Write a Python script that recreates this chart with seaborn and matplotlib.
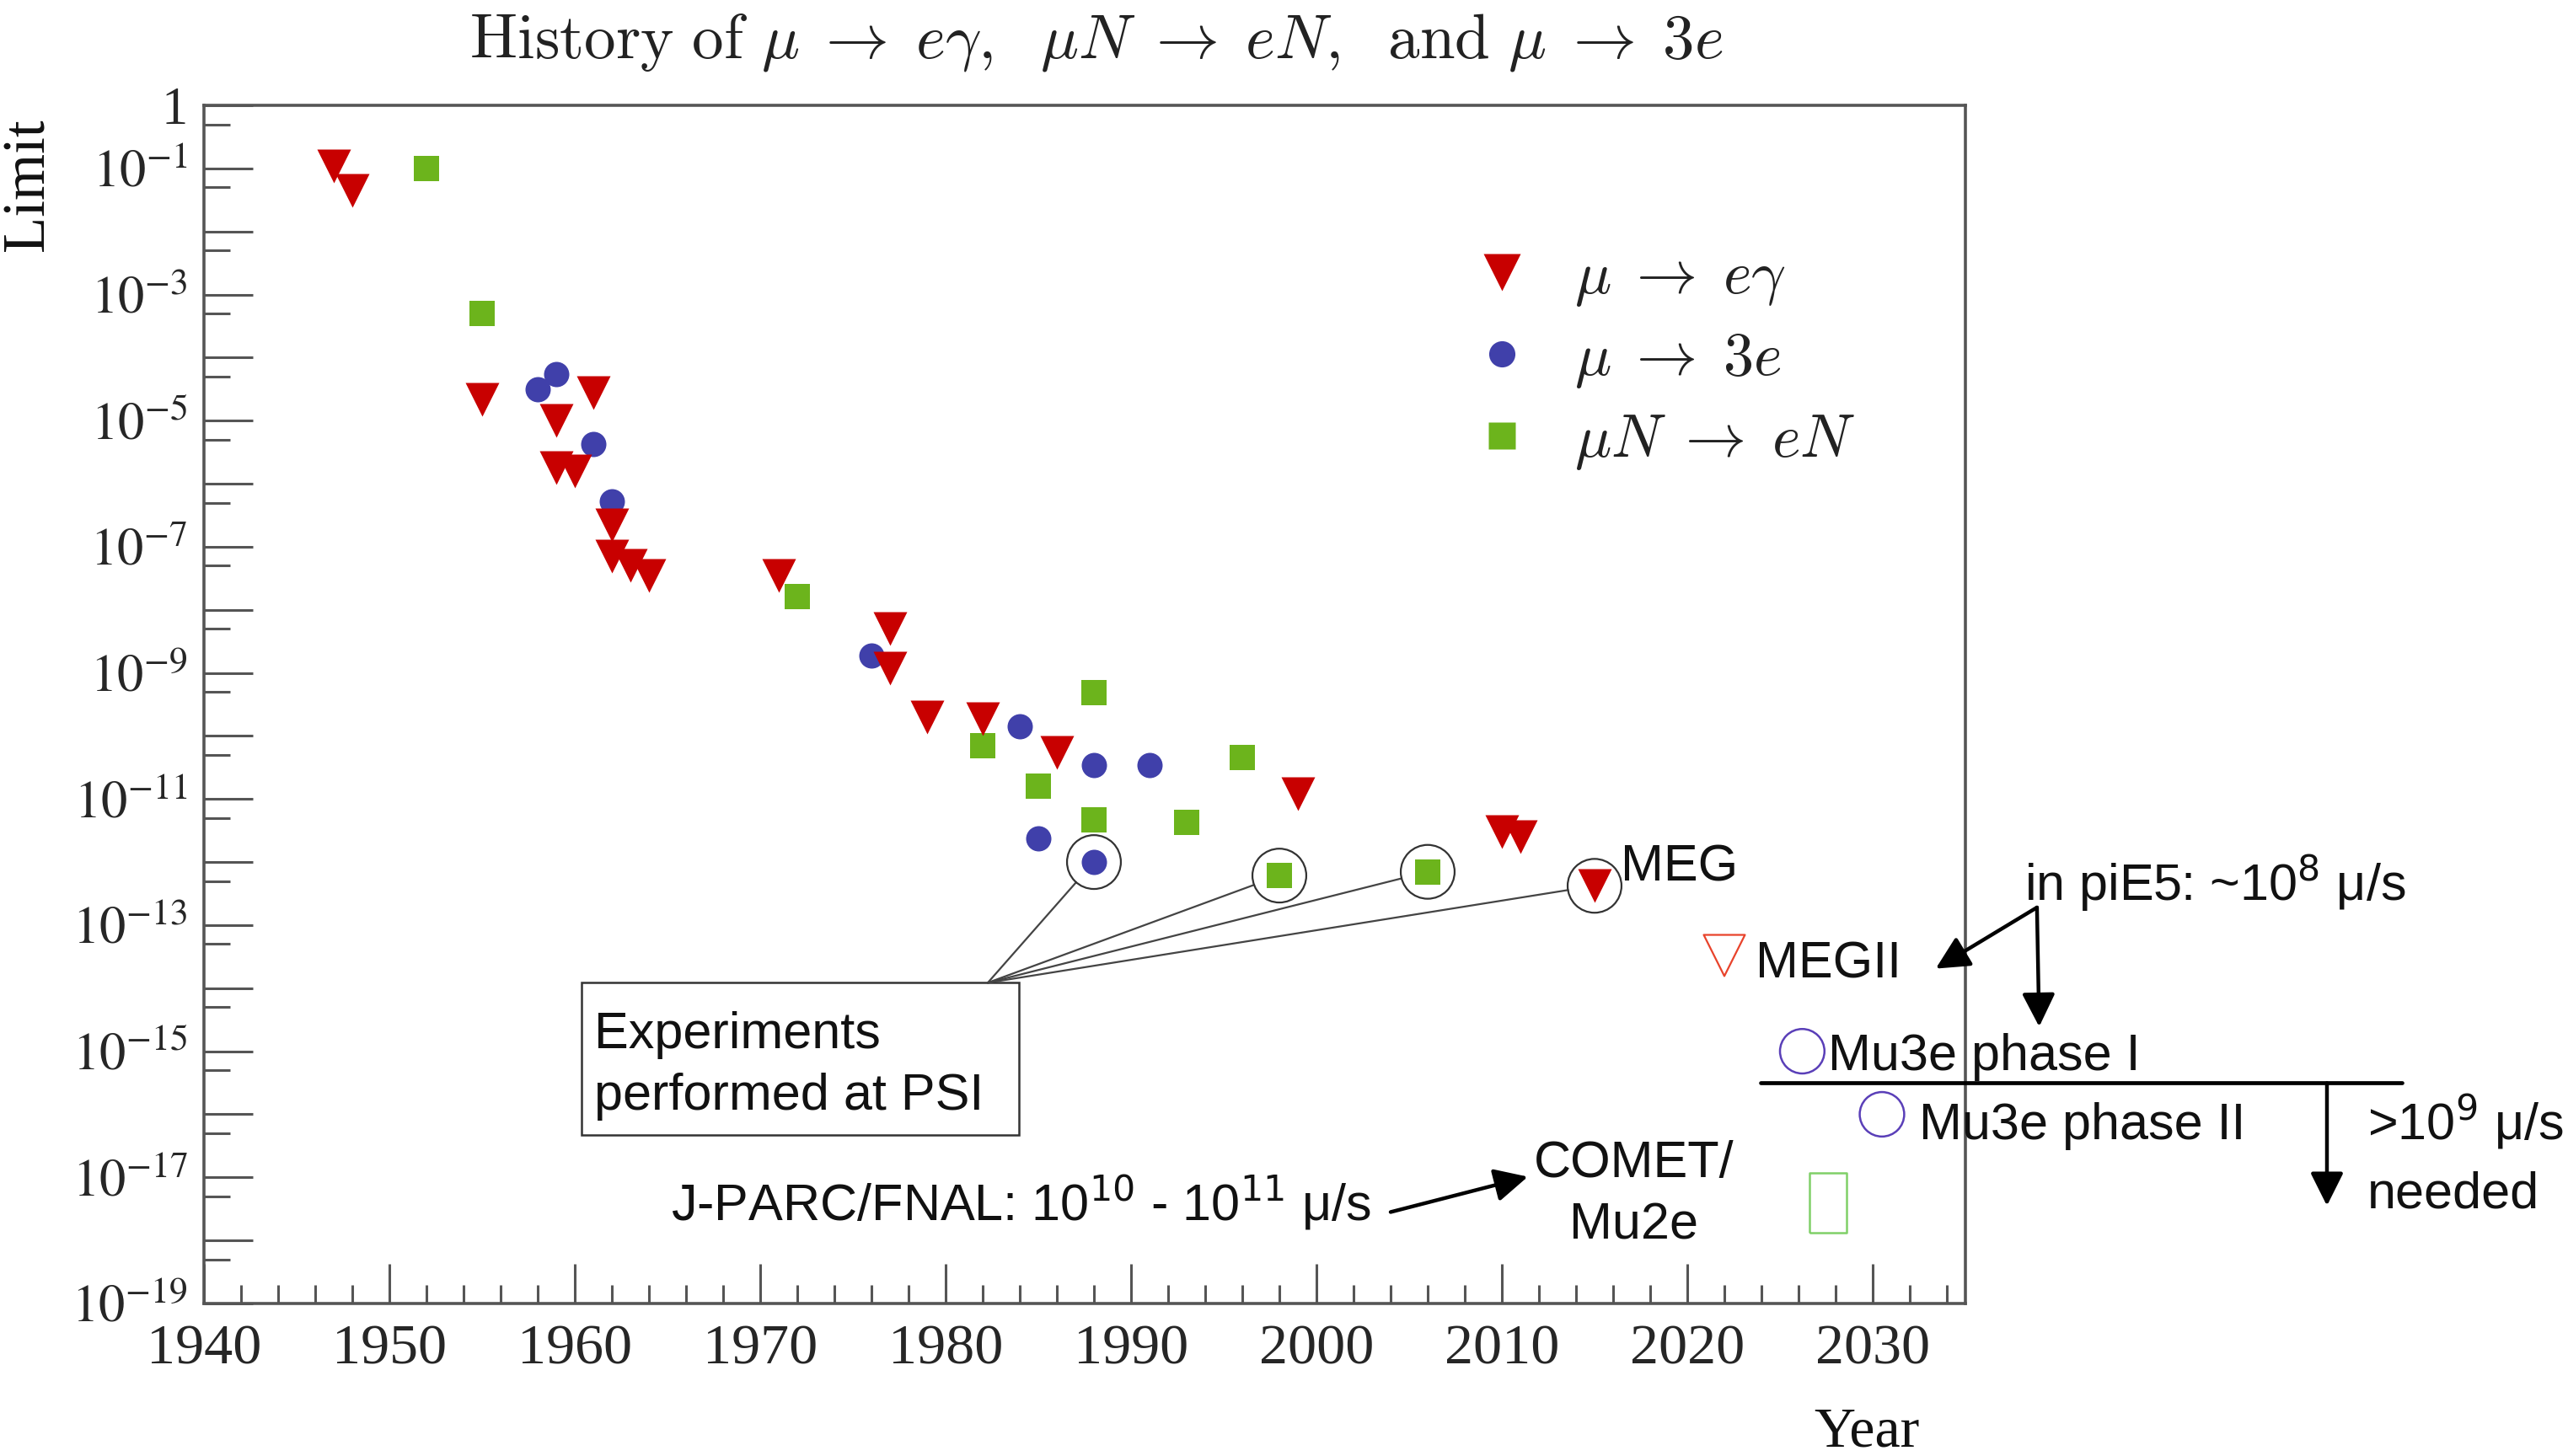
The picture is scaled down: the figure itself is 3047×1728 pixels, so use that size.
import numpy as np
import pandas as pd
import matplotlib
matplotlib.use("Agg")
import matplotlib.pyplot as plt
import seaborn as sns
from matplotlib.lines import Line2D
from matplotlib.patches import Rectangle
from matplotlib.ticker import LogLocator, NullFormatter, MultipleLocator

# ---------------- data ----------------
meg_years = [1947, 1948, 1955, 1959, 1959, 1960, 1961, 1962, 1962, 1963, 1964,
             1971, 1977, 1977, 1979, 1982, 1986, 1999, 2010, 2011, 2015]
meg_limits = [1.1e-1, 4.5e-2, 2.2e-5, 1.0e-5, 1.8e-6, 1.6e-6, 2.8e-5, 2.2e-7, 7.0e-8, 5.0e-8, 3.5e-8,
              3.5e-8, 5.0e-9, 1.2e-9, 2.0e-10, 1.9e-10, 5.5e-11, 1.2e-11, 3.0e-12, 2.5e-12, 4.2e-13]

m3e_years = [1958, 1959, 1961, 1962, 1976, 1984, 1985, 1988, 1988, 1991]
m3e_limits = [3.1e-5, 5.5e-5, 4.2e-6, 5.3e-7, 1.9e-9, 1.4e-10, 2.4e-12, 3.5e-11, 1.0e-12, 3.5e-11]

mue_years = [1952, 1955, 1972, 1982, 1985, 1988, 1988, 1993, 1996, 1998, 2006]
mue_limits = [1.0e-1, 5.0e-4, 1.6e-8, 7.0e-11, 1.6e-11, 4.9e-10, 4.6e-12, 4.3e-12, 4.6e-11, 6.1e-13, 7.0e-13]

# experiments performed at PSI (circled)
psi_years = [1988, 1998, 2006, 2015]
psi_limits = [1.0e-12, 6.1e-13, 7.0e-13, 4.2e-13]

# future sensitivities
megii_year, megii_limit = [2022], [3.3e-14]
mu3e1_year, mu3e1_limit = [2026.2], [1.0e-15]
mu3e2_year, mu3e2_limit = [2030.5], [1.0e-16]
comet_year, comet_limit = [2027.6], [4.0e-18]

series_names = [r"$\mu \;\rightarrow\; e\gamma$", r"$\mu \;\rightarrow\; 3e$", r"$\mu N \;\rightarrow\; eN$"]

x_ticks = [1940, 1950, 1960, 1970, 1980, 1990, 2000, 2010, 2020, 2030]
x_tick_labels = [str(v) for v in x_ticks]
y_exponents = list(range(0, -20, -1))
y_tick_labels = ["1" if e == 0 else (r"$10^{%d}$" % e if e % 2 else "") for e in y_exponents]

# annotation geometry (data coords: year, limit)
meg_label_pos = (2016.4, 10**-12.3)
megii_label_pos = (2023.7, 10**-13.84)
mu3e1_label_pos = (2027.6, 10**-15.30)
mu3e2_label_pos = (2032.5, 10**-16.40)
pie5_label_pos = (2038.2, 10**-12.61)
pie5_arrow_start = (2038.86, 10**-12.72)
pie5_arrow_megii = (2033.4, 10**-13.69)
pie5_arrow_mu3e = (2038.98, 10**-14.61)
hline_x = [2023.95, 2058.55]
hline_y = 10**-15.505
need_arrow_x = 2054.5
need_arrow_y = [10**-15.505, 10**-17.45]
need_label_x = 2056.7
need_label_y = [10**-16.40, 10**-17.48]
comet_label_x = 2017.1
comet_label_y = [10**-16.99, 10**-17.98]
jparc_label_pos = (1965.2, 10**-17.69)
jparc_arrow = [(2004.0, 10**-17.55), (2011.4, 10**-16.99)]

# ---------------- style ----------------
sns.set_theme(style="white")
plt.rcParams.update({
    "font.family": ["Liberation Serif", "DejaVu Serif"],
    "mathtext.fontset": "stix",
    "axes.edgecolor": "#555555",
    "axes.linewidth": 1.3,
})

RED = "#c80000"
BLUE = "#4040aa"
GREEN = "#6cb41c"
SANS = ["Liberation Sans", "DejaVu Sans"]

fig = plt.figure(figsize=(3047 / 200, 1728 / 200), dpi=200)
ax = fig.add_axes([0.07942, 0.10475, 0.68592, 0.82292])

df = pd.concat([
    pd.DataFrame({"year": meg_years, "limit": meg_limits, "process": series_names[0]}),
    pd.DataFrame({"year": m3e_years, "limit": m3e_limits, "process": series_names[1]}),
    pd.DataFrame({"year": mue_years, "limit": mue_limits, "process": series_names[2]}),
], ignore_index=True)

sns.scatterplot(data=df[df.process == series_names[2]], x="year", y="limit", marker="s",
                color=GREEN, s=10.8**2, linewidth=0, ax=ax, legend=False, zorder=3)
sns.scatterplot(data=df[df.process == series_names[1]], x="year", y="limit", marker="o",
                color=BLUE, s=10.8**2, linewidth=0, ax=ax, legend=False, zorder=3)
sns.scatterplot(data=df[df.process == series_names[0]], x="year", y="limit", marker="v",
                color=RED, s=14.4**2, linewidth=0, ax=ax, legend=False, zorder=3)

# future projections (open markers)
sns.scatterplot(x=megii_year, y=megii_limit, marker="v", s=17.6**2, color="#e8432b",
                facecolor="none", edgecolor="#e8432b", linewidth=0.8, ax=ax, legend=False, zorder=3)
sns.scatterplot(x=mu3e1_year + mu3e2_year, y=mu3e1_limit + mu3e2_limit, marker="o", s=19**2,
                color="#5a3fb8", facecolor="none", edgecolor="#5a3fb8", linewidth=0.9,
                ax=ax, legend=False, zorder=3)
rect_marker = [(-0.31, -0.5), (0.31, -0.5), (0.31, 0.5), (-0.31, 0.5), (-0.31, -0.5)]
sns.scatterplot(x=comet_year, y=comet_limit, marker=rect_marker, s=25.6**2, color="#80d068",
                facecolor="none", edgecolor="#80d068", linewidth=0.9, ax=ax, legend=False, zorder=3)

# PSI circles
sns.scatterplot(x=psi_years, y=psi_limits, marker="o", s=23**2, color="#333333",
                facecolor="none", edgecolor="#333333", linewidth=0.8, ax=ax, legend=False, zorder=4)

# axes
ax.set_yscale("log")
ax.set_xlim(1940, 2035)
ax.set_ylim(1e-19, 1)
ax.set_xlabel("")
ax.set_ylabel("")
ax.set_xticks(x_ticks)
ax.set_xticklabels(x_tick_labels)
ax.xaxis.set_minor_locator(MultipleLocator(2))
ax.set_yticks([10.0**e for e in y_exponents])
ax.set_yticklabels(y_tick_labels)
ax.yaxis.set_minor_locator(LogLocator(base=10, subs=[5], numticks=40))
ax.yaxis.set_minor_formatter(NullFormatter())
ax.tick_params(axis="y", which="major", direction="in", length=21, width=1.1, color="#555555",
               labelsize=22.5, pad=7, left=True, right=False)
ax.tick_params(axis="y", which="minor", direction="in", length=11, width=1.1, color="#555555",
               left=True, right=False)
ax.tick_params(axis="x", which="major", direction="in", length=17, width=1.1, color="#555555",
               labelsize=24.5, pad=9, bottom=True, top=False)
ax.tick_params(axis="x", which="minor", direction="in", length=8, width=1.1, color="#555555",
               bottom=True, top=False)
for sp in ax.spines.values():
    sp.set_color("#555555")
    sp.set_linewidth(1.3)

# title and axis labels
fig.text(0.427, 0.9606,
         r"$\mathrm{History\ of}\ \mu \;\rightarrow\; e\gamma,\;\ \mu N \;\rightarrow\; eN,\;\ "
         r"\mathrm{and}\ \mu \;\rightarrow\; 3e$",
         ha="center", va="baseline", fontsize=27, math_fontfamily="cm", color="#222222")
fig.text(0.0112, 0.873, "Limit", rotation=90, ha="center", va="center", fontsize=25.5, color="#111111")
fig.text(0.7476, 0.0065, "Year", ha="right", va="baseline", fontsize=24.5, color="#111111")

# legend
handles = [
    Line2D([0], [0], marker="v", ls="none", markerfacecolor=RED, markeredgecolor="none", markersize=15.8),
    Line2D([0], [0], marker="o", ls="none", markerfacecolor=BLUE, markeredgecolor="none", markersize=11.2),
    Line2D([0], [0], marker="s", ls="none", markerfacecolor=GREEN, markeredgecolor="none", markersize=11.2),
]
leg = ax.legend(handles, series_names, loc="center left", bbox_to_anchor=(0.7202, 0.7862),
                frameon=False, fontsize=26, handlelength=0.96, handletextpad=0.71,
                labelspacing=0.38, borderpad=0, borderaxespad=0)
for t in leg.get_texts():
    t.set_math_fontfamily("cm")
    t.set_color("#222222")

# PSI box and connecting lines
box_corner = (0.445, 0.2677)
ax.add_patch(Rectangle((0.2144, 0.1406), 0.2483, 0.1271, transform=ax.transAxes, fill=False,
                       ec="#333333", lw=0.9, clip_on=False, zorder=2))
ax.text(0.2215, 0.2133, "Experiments", transform=ax.transAxes, family=SANS, fontsize=22,
        va="baseline", ha="left", color="#111111")
ax.text(0.2215, 0.1614, "performed at PSI", transform=ax.transAxes, family=SANS, fontsize=22,
        va="baseline", ha="left", color="#111111")
for xv, yv in zip(psi_years, psi_limits):
    ax.annotate("", xy=(xv, yv), xycoords="data", xytext=box_corner, textcoords="axes fraction",
                arrowprops=dict(arrowstyle="-", color="#444444", lw=0.8, shrinkA=0, shrinkB=11.5),
                zorder=2)

# labels for experiments
txt = dict(family=SANS, fontsize=22, color="#111111", va="baseline")
ax.text(*meg_label_pos, "MEG", ha="left", **txt)
ax.text(*megii_label_pos, "MEGII", ha="left", **txt)
ax.text(*mu3e1_label_pos, "Mu3e phase I", ha="left", **txt)
ax.text(*mu3e2_label_pos, "Mu3e phase II", ha="left", **txt)
ax.text(*pie5_label_pos, r"in piE5: ~10$^{8}$ μ/s", ha="left", math_fontfamily="dejavusans", **txt)
ax.text(need_label_x, need_label_y[0], r">10$^{9}$ μ/s", ha="left", math_fontfamily="dejavusans", **txt)
ax.text(need_label_x, need_label_y[1], "needed", ha="left", **txt)
ax.text(comet_label_x, comet_label_y[0], "COMET/", ha="center", **txt)
ax.text(comet_label_x, comet_label_y[1], "Mu2e", ha="center", **txt)
ax.text(*jparc_label_pos, r"J-PARC/FNAL: 10$^{10}$ - 10$^{11}$ μ/s", ha="left",
        math_fontfamily="dejavusans", **txt)

arrow_kw = dict(arrowstyle="-|>,head_length=0.4,head_width=0.2", color="black", lw=1.6,
                shrinkA=0, shrinkB=0, mutation_scale=30)
ax.annotate("", xy=pie5_arrow_megii, xytext=pie5_arrow_start, arrowprops=arrow_kw, annotation_clip=False)
ax.annotate("", xy=pie5_arrow_mu3e, xytext=pie5_arrow_start, arrowprops=arrow_kw, annotation_clip=False)
ax.annotate("", xy=(need_arrow_x, need_arrow_y[1]), xytext=(need_arrow_x, need_arrow_y[0]),
            arrowprops=arrow_kw, annotation_clip=False)
ax.annotate("", xy=jparc_arrow[1], xytext=jparc_arrow[0], arrowprops=arrow_kw, annotation_clip=False)
ax.plot(hline_x, [hline_y, hline_y], color="black", lw=1.7, clip_on=False, zorder=3)

fig.savefig("out.png", dpi=200, facecolor="white")
